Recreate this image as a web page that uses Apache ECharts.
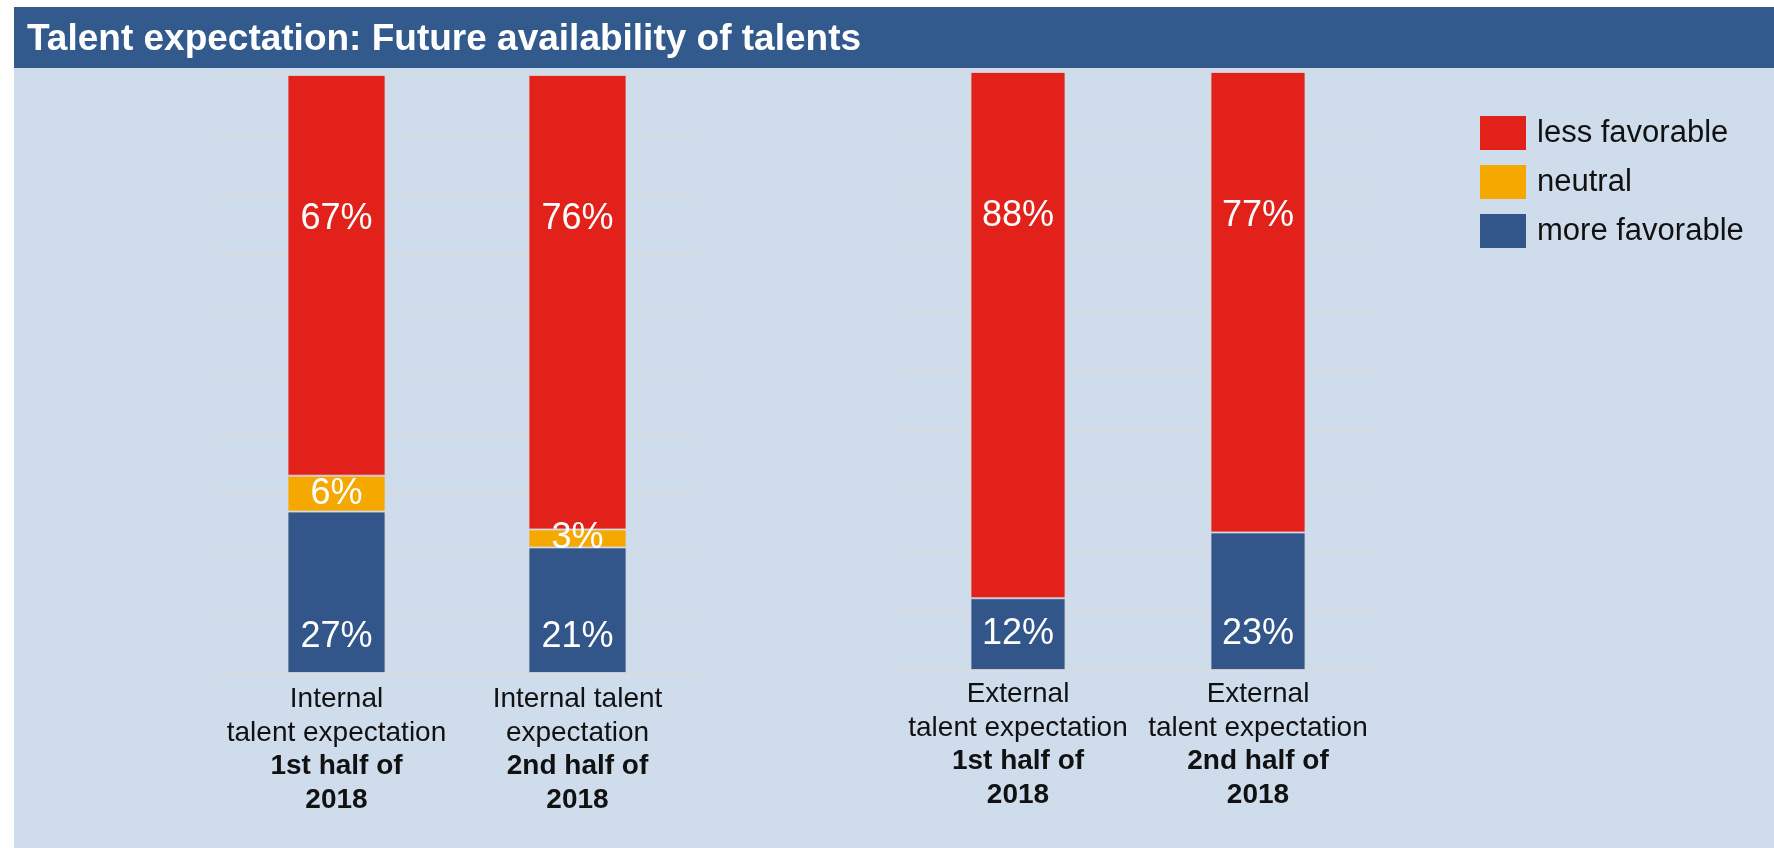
<!DOCTYPE html>
<html>
<head>
<meta charset="utf-8">
<script src="https://cdn.jsdelivr.net/npm/echarts@6/dist/echarts.min.js"></script>
<style>
html,body{margin:0;padding:0;background:#ffffff;}
#chart{width:1774px;height:848px;}
</style>
</head>
<body>
<div id="chart"></div>
<script>
const titleText = 'Talent expectation: Future availability of talents';
const internalCategories = [
  'Internal\ntalent expectation\n1st half of\n2018',
  'Internal talent\nexpectation\n2nd half of\n2018'
];
const externalCategories = [
  'External\ntalent expectation\n1st half of\n2018',
  'External\ntalent expectation\n2nd half of\n2018'
];
const seriesNames = ['less favorable', 'neutral', 'more favorable'];
const internalLess = [67, 76];
const internalNeutral = [6, 3];
const internalMore = [27, 21];
const externalLess = [88, 77];
const externalNeutral = [null, null];
const externalMore = [12, 23];

const RED = '#E2211A', YEL = '#F5A800', BLUE = '#325689';
const FONT = 'Liberation Sans, Arial, sans-serif';

function catFormatter(v) {
  const lines = v.split('\n');
  return lines.map((l, i) => (i < 2 ? '{n|' + l + '}' : '{b|' + l + '}')).join('\n');
}
const rich = {
  n: {fontSize: 28, fontFamily: FONT, color: '#111', lineHeight: 33.5},
  b: {fontSize: 28, fontFamily: FONT, color: '#111', fontWeight: 'bold', lineHeight: 33.5}
};

function xAxisCfg(idx, cats, margin) {
  return {
    type: 'category', gridIndex: idx, data: cats,
    axisLine: {show: false}, axisTick: {show: false},
    axisLabel: {interval: 0, margin: margin, formatter: catFormatter, rich: rich}
  };
}
function yAxisCfg(idx) {
  return {
    type: 'value', gridIndex: idx, min: 0, max: 100, interval: 10,
    axisLabel: {show: false}, axisLine: {show: false}, axisTick: {show: false},
    splitLine: {show: true, lineStyle: {color: '#DADADA', width: 1.5}}
  };
}
const border = {borderColor: 'rgba(215,215,220,0.8)', borderWidth: 1};
function mk(name, data, color, idx, width, labelPos, dist) {
  return {
    name: name, type: 'bar', stack: 'g' + idx, xAxisIndex: idx, yAxisIndex: idx,
    data: data, barWidth: width,
    itemStyle: Object.assign({color: color}, border),
    label: {
      show: true, position: labelPos, distance: dist,
      formatter: p => (p.value == null ? '' : p.value + '%'),
      color: '#fff', fontSize: 36, fontFamily: FONT
    },
    emphasis: {disabled: true}
  };
}

const chart = echarts.init(document.getElementById('chart'));
chart.setOption({
  animation: false,
  backgroundColor: '#ffffff',
  graphic: [
    {type: 'rect', z: -10, shape: {x: 14, y: 7, width: 1760, height: 841}, style: {fill: '#CFDCEC'}},
    {type: 'rect', z: -9, shape: {x: 14, y: 7, width: 1760, height: 61}, style: {fill: '#335A8C'}}
  ],
  title: {
    text: titleText, left: 22, top: 16,
    textStyle: {color: '#fff', fontSize: 37, fontWeight: 'bold', fontFamily: FONT}
  },
  legend: {
    orient: 'vertical', left: 1480, top: 116, padding: 0,
    data: seriesNames,
    itemWidth: 46, itemHeight: 34, itemGap: 15, icon: 'rect',
    itemStyle: {borderWidth: 0},
    textStyle: {fontSize: 31, fontFamily: FONT, color: '#111', padding: [0, 0, 0, 6]}
  },
  grid: [
    {left: 216, width: 482, top: 75, height: 598},
    {left: 898, width: 480, top: 72, height: 598}
  ],
  xAxis: [xAxisCfg(0, internalCategories, 10), xAxisCfg(1, externalCategories, 8)],
  yAxis: [yAxisCfg(0), yAxisCfg(1)],
  series: [
    mk(seriesNames[2], internalMore, BLUE, 0, 98, 'insideBottom', 18),
    mk(seriesNames[1], internalNeutral, YEL, 0, 98, 'inside', 0),
    mk(seriesNames[0], internalLess, RED, 0, 98, 'insideTop', 126),
    mk(seriesNames[2], externalMore, BLUE, 1, 95, 'insideBottom', 18),
    mk(seriesNames[1], externalNeutral, YEL, 1, 95, 'inside', 0),
    mk(seriesNames[0], externalLess, RED, 1, 95, 'insideTop', 126)
  ]
});
</script>
</body>
</html>
